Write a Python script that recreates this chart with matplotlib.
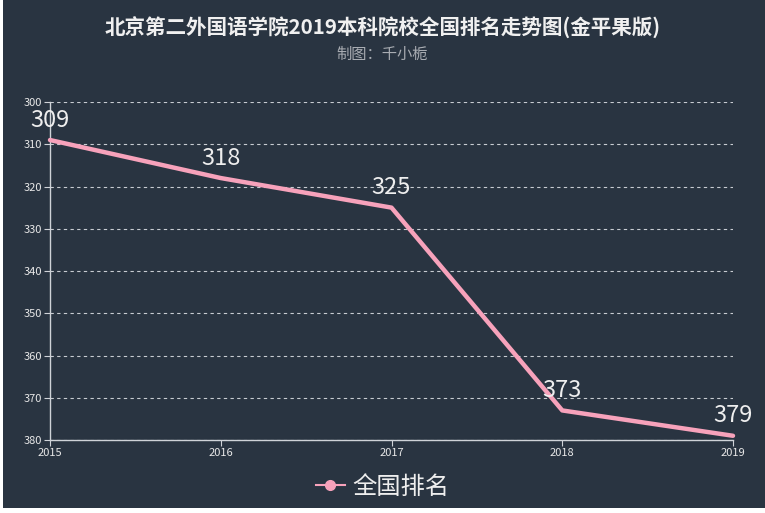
import matplotlib
matplotlib.use("Agg")
import matplotlib.pyplot as plt
from matplotlib.patches import Rectangle

plt.rcParams['font.family'] = ['Noto Sans CJK SC', 'DejaVu Sans']

years = ['2015', '2016', '2017', '2018', '2019']
ranks = [309, 318, 325, 373, 379]
series_name = '全国排名'
title = '北京第二外国语学院2019本科院校全国排名走势图(金平果版)'
subtitle = '制图：千小栀'

bg = '#293441'
pink = '#f7a2bb'
axis_col = '#cfd3d8'

fig = plt.figure(figsize=(7.65, 5.13), dpi=100, facecolor='white')
fig.patches.append(Rectangle((3 / 765, 5 / 513), 1, 1, transform=fig.transFigure,
                             facecolor=bg, edgecolor='none', zorder=-10))

ax = fig.add_axes([50 / 765, 73 / 513, 683 / 765, 338 / 513])
ax.set_facecolor(bg)

x = list(range(len(years)))
ax.plot(x, ranks, color=pink, lw=3.2, solid_capstyle='round', zorder=3, clip_on=False)
for xi, v in zip(x, ranks):
    ax.annotate(str(v), (xi, v), xytext=(0, 6), textcoords='offset points',
                ha='center', va='bottom', color='#eeeeee', fontsize=17, zorder=4)

ax.set_xlim(0, len(years) - 1)
ax.set_ylim(380, 300)
ax.set_yticks(range(300, 381, 10))
ax.set_xticks(x)
ax.set_xticklabels(years)
ax.yaxis.grid(True, linestyle=(0, (3, 3)), color='#c8ccd2', lw=0.8)
ax.set_axisbelow(True)

for s in ['top', 'right']:
    ax.spines[s].set_visible(False)
for s in ['left', 'bottom']:
    ax.spines[s].set_color(axis_col)
    ax.spines[s].set_linewidth(1)
ax.tick_params(colors=axis_col, labelcolor='#e8e8e8', labelsize=8, length=4, width=0.8,
               pad=2)

fig.text(0.5, 1 - 28 / 513, title, ha='center', va='center', color='#f0f0f0',
         fontsize=14.8, fontweight='bold')
fig.text(0.5, 1 - 54 / 513, subtitle, ha='center', va='center', color='#a9adb3',
         fontsize=11)

h, = ax.plot([], [], color=pink, lw=1.5, marker='o', markersize=7)
leg = fig.legend([h], [series_name], loc='center', bbox_to_anchor=(0.5, 1 - 487 / 513),
                 frameon=False, fontsize=17.5, handlelength=1.2, handletextpad=0.3)
for t in leg.get_texts():
    t.set_color('#eeeeee')

fig.savefig('out.png', dpi=100, facecolor=fig.get_facecolor())
